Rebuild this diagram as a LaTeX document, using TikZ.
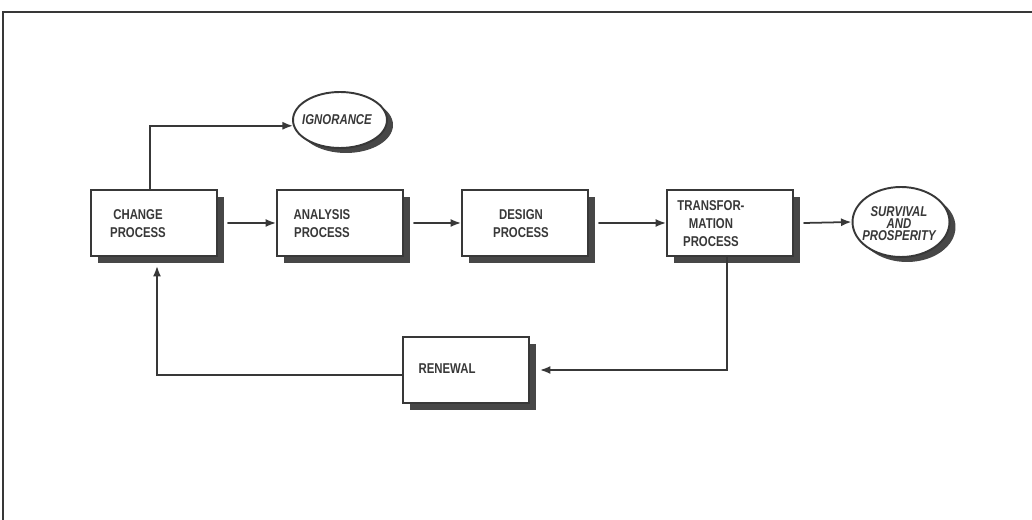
\documentclass[tikz,border=0pt]{standalone}
\usepackage{fontspec}
\setmainfont{Liberation Sans}[FakeStretch=0.8]
\usetikzlibrary{shapes.geometric,shadows,arrows.meta}

\begin{document}
\begin{tikzpicture}
		[x=0.02cm,y=-0.02cm,line cap=round,
		%Styles
		process/.style={draw=inkcolor,line width=1.1pt,fill=white,inner sep=0pt,
			minimum width=2.52cm,minimum height=1.32cm,
			drop shadow={shadow xshift=0.14cm,shadow yshift=-0.14cm,fill=shadecolor,opacity=1}},
		outcome/.style={ellipse,draw=inkcolor,line width=1.1pt,fill=white,inner sep=0pt,
			drop shadow={shadow xshift=0.12cm,shadow yshift=-0.1cm,fill=shadecolor,opacity=1}},
		process text/.style={align=center,text=inkcolor,font=\bfseries\fontsize{8.1}{10.2}\selectfont},
		outcome text/.style={align=center,text=inkcolor,font=\bfseries\itshape\fontsize{8.1}{6.8}\selectfont},
		flow/.style={draw=inkcolor,line width=1pt,-{Latex[length=6pt,width=4.6pt]}}
		]
		
		%Colors
		\colorlet{inkcolor}{black!78}	%lines and text
		\colorlet{shadecolor}{black!72}	%shadows
		
		\useasboundingbox (0,0) rectangle (1032,520);
		\draw[inkcolor,line width=0.9pt] (1032,12) -- (3,12) -- (3,520);
		
		%The graphic
		\node[process] (change) at (154,223) {};
		\node[process text] (changetxt) at (138,224) {CHANGE\\PROCESS};
		\node[process] (analysis) at (340,223) {};
		\node[process text] (analysistxt) at (322,224) {ANALYSIS\\PROCESS};
		\node[process] (design) at (525,223) {};
		\node[process text] (designtxt) at (521,224) {DESIGN\\PROCESS};
		\node[process] (transform) at (730,223) {};
		\node[process text] (transformtxt) at (711,224) {TRANSFOR-\\MATION\\PROCESS};
		\node[process] (renewal) at (466,370) {};
		\node[process text] (renewaltxt) at (447,369) {RENEWAL};
		
		\node[outcome,minimum width=1.88cm,minimum height=1.12cm] (ignorance) at (340,120) {};
		\node[outcome text] (ignorancetxt) at (337,120) {IGNORANCE};
		\node[outcome,minimum width=1.94cm,minimum height=1.4cm] (survival) at (901,222) {};
		\node[outcome text] (survivaltxt) at (899,224) {SURVIVAL\\AND\\PROSPERITY};
		
		\draw[flow] ([xshift=-0.08cm]change.north) |- (ignorance.187);
		\draw[flow] ([xshift=0.2cm]change.east) -- (analysis.west);
		\draw[flow] ([xshift=0.2cm]analysis.east) -- (design.west);
		\draw[flow] ([xshift=0.2cm]design.east) -- (transform.west);
		\draw[flow] ([xshift=0.2cm]transform.east) -- (survival.west);
		\draw[flow] ([xshift=-0.06cm]transform.south) |- ([xshift=0.2cm]renewal.east);
		\draw[flow] ([yshift=-0.1cm]renewal.west) -| ([xshift=0.06cm,yshift=-0.18cm]change.south);
	\end{tikzpicture}
\end{document}
